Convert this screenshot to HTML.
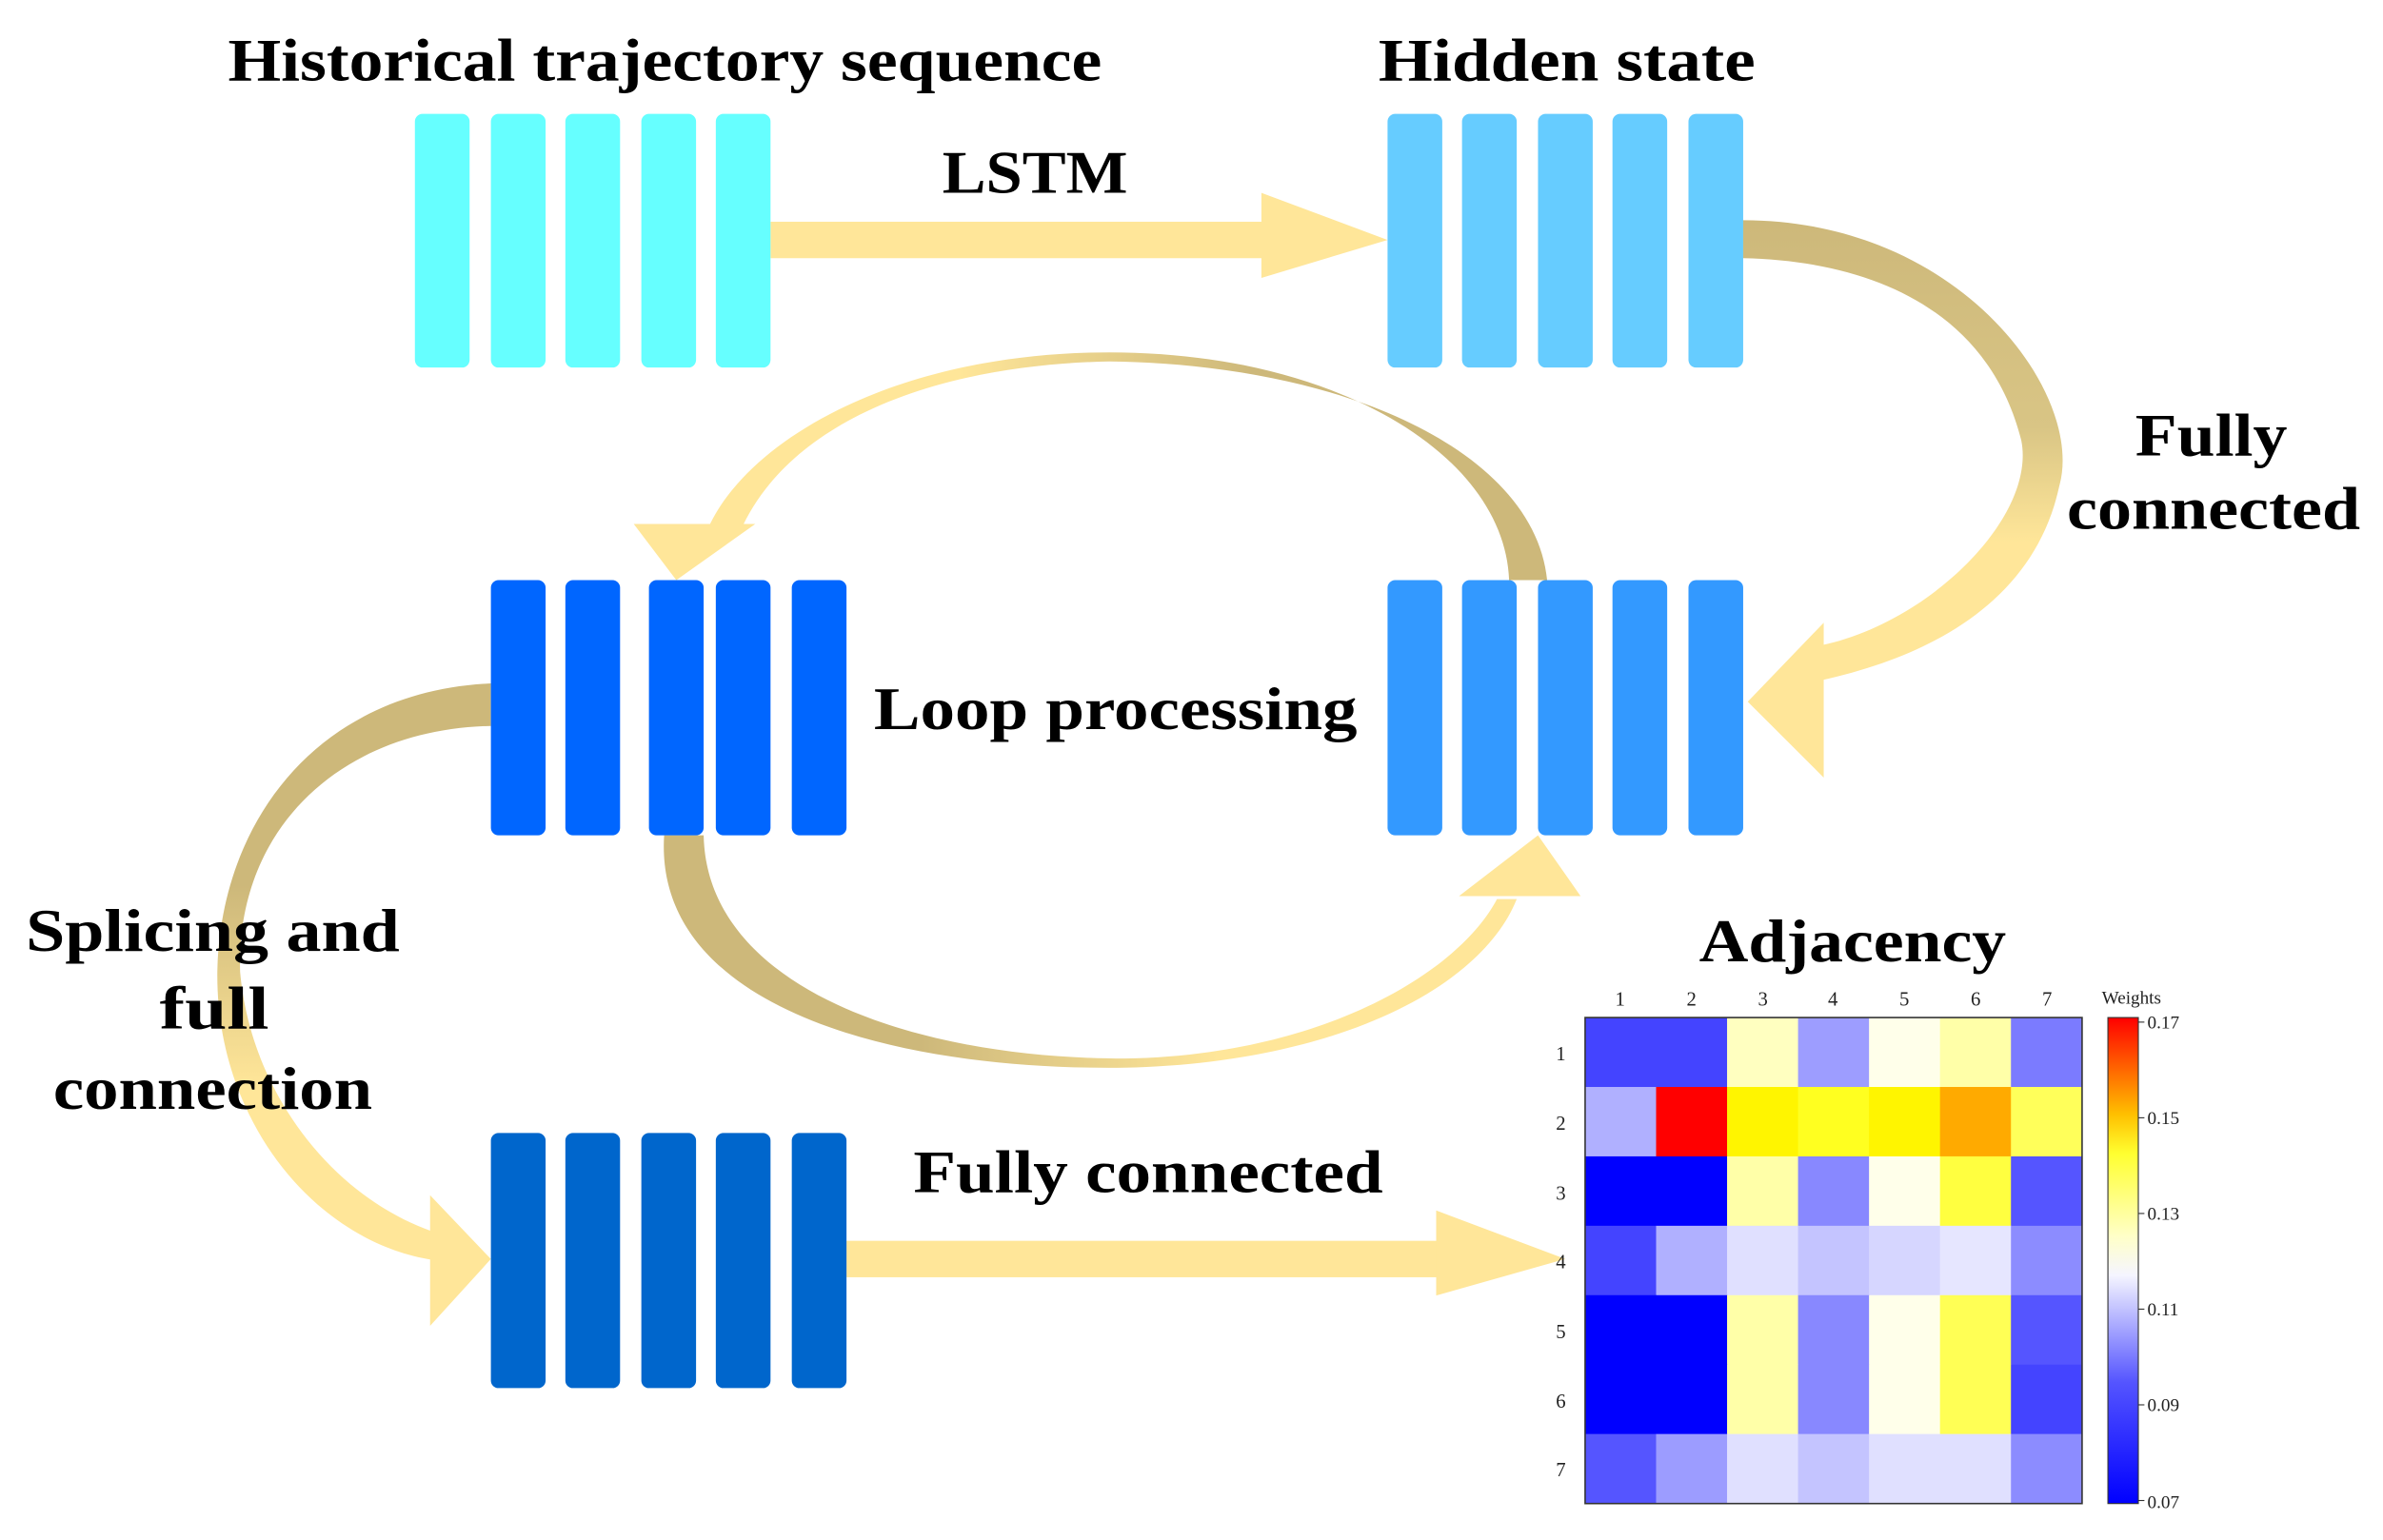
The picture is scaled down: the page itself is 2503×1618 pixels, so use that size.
<!DOCTYPE html>
<html><head><meta charset="utf-8"><style>html,body{margin:0;padding:0;background:#fff}svg{display:block}</style></head>
<body>
<svg width="2503" height="1618" viewBox="0 0 1568 1014" preserveAspectRatio="none" xmlns="http://www.w3.org/2000/svg" font-family="'Liberation Serif',serif">
<defs>
<linearGradient id="gR" x1="0" y1="0" x2="0" y2="1"><stop offset="0" stop-color="#CDB87A"/><stop offset="0.45" stop-color="#D9C585"/><stop offset="0.7" stop-color="#FFE699"/><stop offset="1" stop-color="#FFE699"/></linearGradient>
<linearGradient id="gT" x1="1" y1="0" x2="0" y2="0"><stop offset="0" stop-color="#CDB87A"/><stop offset="0.35" stop-color="#CDB87A"/><stop offset="0.7" stop-color="#FFE699"/><stop offset="1" stop-color="#FFE699"/></linearGradient>
<linearGradient id="gB" x1="0" y1="0" x2="1" y2="0"><stop offset="0" stop-color="#CDB87A"/><stop offset="0.3" stop-color="#CDB87A"/><stop offset="0.65" stop-color="#FFE699"/><stop offset="1" stop-color="#FFE699"/></linearGradient>
<linearGradient id="gL" x1="0" y1="0" x2="0" y2="1"><stop offset="0" stop-color="#CDB87A"/><stop offset="0.35" stop-color="#CDB87A"/><stop offset="0.7" stop-color="#FFE699"/><stop offset="1" stop-color="#FFE699"/></linearGradient>
<linearGradient id="cb" x1="0" y1="1" x2="0" y2="0"><stop offset="0" stop-color="#0000FF"/><stop offset="0.25" stop-color="#5555FF"/><stop offset="0.47" stop-color="#F5F5FF"/><stop offset="0.55" stop-color="#FFFFC8"/><stop offset="0.72" stop-color="#FFFF30"/><stop offset="0.8" stop-color="#FFC000"/><stop offset="0.9" stop-color="#FF6000"/><stop offset="1" stop-color="#FF0000"/></linearGradient>
</defs>

<!-- straight arrows -->
<rect x="507" y="146" width="325" height="24" fill="#FFE699"/>
<polygon points="830,127 913,158 830,183" fill="#FFE699"/>
<rect x="557" y="817" width="390" height="24" fill="#FFE699"/>
<polygon points="945,797 1030,829 945,853" fill="#FFE699"/>

<!-- right curved arrow -->
<path d="M1147,145 C1290,145 1372,260 1355,320 C1340,390 1280,430 1198,448 L1198,425 C1270,410 1340,340 1330,290 C1310,210 1240,172 1147,170 Z" fill="url(#gR)"/>
<polygon points="1200,410 1150,462 1200,512" fill="#FFE699"/>

<!-- top loop arc -->
<path d="M993,382 C990,300 880,232 730,232 C590,232 490,290 465,350 L487,350 C520,275 620,240 730,238 C890,240 1010,300 1018,382 Z" fill="url(#gT)"/>
<polygon points="417,345 497,345 445,382" fill="#FFE699"/>

<!-- bottom loop arc -->
<path d="M437,550 C430,660 580,705 740,703 C880,700 975,650 998,592 L985,592 C960,640 870,695 740,697 C600,697 465,650 463,550 Z" fill="url(#gB)"/>
<polygon points="960,590 1040,590 1012,550" fill="#FFE699"/>

<!-- left arc -->
<path d="M323,450 C210,455 145,540 143,640 C142,740 210,820 288,830 L288,812 C220,790 165,720 158,640 C155,545 225,480 323,478 Z" fill="url(#gL)"/>
<polygon points="283,787 323,829 283,873" fill="#FFE699"/>

<!-- bar groups -->
<g fill="#66FFFF"><rect x="273" y="75" width="36" height="167" rx="5"/><rect x="323" y="75" width="36" height="167" rx="5"/><rect x="372" y="75" width="36" height="167" rx="5"/><rect x="422" y="75" width="36" height="167" rx="5"/><rect x="471" y="75" width="36" height="167" rx="5"/></g>
<g fill="#66CCFF"><rect x="913" y="75" width="36" height="167" rx="5"/><rect x="962" y="75" width="36" height="167" rx="5"/><rect x="1012" y="75" width="36" height="167" rx="5"/><rect x="1061" y="75" width="36" height="167" rx="5"/><rect x="1111" y="75" width="36" height="167" rx="5"/></g>
<g fill="#0066FF"><rect x="323" y="382" width="36" height="168" rx="5"/><rect x="372" y="382" width="36" height="168" rx="5"/><rect x="427" y="382" width="36" height="168" rx="5"/><rect x="471" y="382" width="36" height="168" rx="5"/><rect x="521" y="382" width="36" height="168" rx="5"/></g>
<g fill="#3399FF"><rect x="913" y="382" width="36" height="168" rx="5"/><rect x="962" y="382" width="36" height="168" rx="5"/><rect x="1012" y="382" width="36" height="168" rx="5"/><rect x="1061" y="382" width="36" height="168" rx="5"/><rect x="1111" y="382" width="36" height="168" rx="5"/></g>
<g fill="#0066CC"><rect x="323" y="746" width="36" height="168" rx="5"/><rect x="372" y="746" width="36" height="168" rx="5"/><rect x="422" y="746" width="36" height="168" rx="5"/><rect x="471" y="746" width="36" height="168" rx="5"/><rect x="521" y="746" width="36" height="168" rx="5"/></g>

<!-- labels -->
<g font-weight="bold" font-size="40" fill="#000">
<text x="150" y="53" textLength="575" lengthAdjust="spacingAndGlyphs">Historical trajectory sequence</text>
<text x="907" y="53" textLength="248" lengthAdjust="spacingAndGlyphs">Hidden state</text>
<text x="620" y="127" textLength="122" lengthAdjust="spacingAndGlyphs">LSTM</text>
<text x="1405" y="300" textLength="100" lengthAdjust="spacingAndGlyphs">Fully</text>
<text x="1360" y="348" textLength="193" lengthAdjust="spacingAndGlyphs">connected</text>
<text x="575" y="480" textLength="318" lengthAdjust="spacingAndGlyphs">Loop processing</text>
<text x="17" y="626" textLength="246" lengthAdjust="spacingAndGlyphs">Splicing and</text>
<text x="105" y="677" textLength="72" lengthAdjust="spacingAndGlyphs">full</text>
<text x="35" y="730" textLength="210" lengthAdjust="spacingAndGlyphs">connection</text>
<text x="1118" y="633" textLength="202" lengthAdjust="spacingAndGlyphs">Adjacency</text>
<text x="601" y="785" textLength="309" lengthAdjust="spacingAndGlyphs">Fully connected</text>
</g>

<!-- heatmap -->
<g transform="translate(1043,670)">
<g id="cells">
<rect x="0" y="0" width="47" height="46" fill="#4444FF"/><rect x="46.7" y="0" width="47" height="46" fill="#4444FF"/><rect x="93.4" y="0" width="47" height="46" fill="#FFFFC0"/><rect x="140.1" y="0" width="47" height="46" fill="#9D9DFF"/><rect x="186.8" y="0" width="47" height="46" fill="#FFFFEA"/><rect x="233.5" y="0" width="47" height="46" fill="#FFFFA8"/><rect x="280.2" y="0" width="47" height="46" fill="#7B7BFF"/>
<rect x="0" y="45.7" width="47" height="46" fill="#B0B0FF"/><rect x="46.7" y="45.7" width="47" height="46" fill="#FF0000"/><rect x="93.4" y="45.7" width="47" height="46" fill="#FFF500"/><rect x="140.1" y="45.7" width="47" height="46" fill="#FFFF20"/><rect x="186.8" y="45.7" width="47" height="46" fill="#FFF500"/><rect x="233.5" y="45.7" width="47" height="46" fill="#FFAA00"/><rect x="280.2" y="45.7" width="47" height="46" fill="#FFFF5A"/>
<rect x="0" y="91.4" width="47" height="46" fill="#0000FF"/><rect x="46.7" y="91.4" width="47" height="46" fill="#0000FF"/><rect x="93.4" y="91.4" width="47" height="46" fill="#FFFFA8"/><rect x="140.1" y="91.4" width="47" height="46" fill="#8888FF"/><rect x="186.8" y="91.4" width="47" height="46" fill="#FFFFEA"/><rect x="233.5" y="91.4" width="47" height="46" fill="#FFFF40"/><rect x="280.2" y="91.4" width="47" height="46" fill="#5555FF"/>
<rect x="0" y="137.1" width="47" height="46" fill="#4444FF"/><rect x="46.7" y="137.1" width="47" height="46" fill="#B0B0FF"/><rect x="93.4" y="137.1" width="47" height="46" fill="#E0E0FF"/><rect x="140.1" y="137.1" width="47" height="46" fill="#C4C4FF"/><rect x="186.8" y="137.1" width="47" height="46" fill="#D6D6FF"/><rect x="233.5" y="137.1" width="47" height="46" fill="#E6E6FF"/><rect x="280.2" y="137.1" width="47" height="46" fill="#8C8CFF"/>
<rect x="0" y="182.8" width="47" height="46" fill="#0000FF"/><rect x="46.7" y="182.8" width="47" height="46" fill="#0000FF"/><rect x="93.4" y="182.8" width="47" height="46" fill="#FFFFA8"/><rect x="140.1" y="182.8" width="47" height="46" fill="#8888FF"/><rect x="186.8" y="182.8" width="47" height="46" fill="#FFFFEA"/><rect x="233.5" y="182.8" width="47" height="46" fill="#FFFF55"/><rect x="280.2" y="182.8" width="47" height="46" fill="#5555FF"/>
<rect x="0" y="228.5" width="47" height="46" fill="#0000FF"/><rect x="46.7" y="228.5" width="47" height="46" fill="#0000FF"/><rect x="93.4" y="228.5" width="47" height="46" fill="#FFFFA8"/><rect x="140.1" y="228.5" width="47" height="46" fill="#8888FF"/><rect x="186.8" y="228.5" width="47" height="46" fill="#FFFFEA"/><rect x="233.5" y="228.5" width="47" height="46" fill="#FFFF55"/><rect x="280.2" y="228.5" width="47" height="46" fill="#4444FF"/>
<rect x="0" y="274.2" width="47" height="45.8" fill="#5555FF"/><rect x="46.7" y="274.2" width="47" height="45.8" fill="#9C9CFF"/><rect x="93.4" y="274.2" width="47" height="45.8" fill="#E0E0FF"/><rect x="140.1" y="274.2" width="47" height="45.8" fill="#C4C4FF"/><rect x="186.8" y="274.2" width="47" height="45.8" fill="#E0E0FF"/><rect x="233.5" y="274.2" width="47" height="45.8" fill="#E0E0FF"/><rect x="280.2" y="274.2" width="47" height="45.8" fill="#8C8CFF"/>
</g>
<rect x="0" y="0" width="327" height="320" fill="none" stroke="#333" stroke-width="1"/>
<g font-size="13" fill="#222" text-anchor="middle">
<text x="23" y="-8">1</text><text x="70" y="-8">2</text><text x="117" y="-8">3</text><text x="163" y="-8">4</text><text x="210" y="-8">5</text><text x="257" y="-8">6</text><text x="304" y="-8">7</text>
<text x="-16" y="28">1</text><text x="-16" y="74">2</text><text x="-16" y="120">3</text><text x="-16" y="165">4</text><text x="-16" y="211">5</text><text x="-16" y="257">6</text><text x="-16" y="302">7</text>
</g>
</g>
<rect x="1387" y="670" width="20" height="320" fill="url(#cb)" stroke="#333" stroke-width="0.7"/>
<g font-size="12" fill="#222">
<text x="1383" y="661">Weights</text>
<text x="1413" y="677">0.17</text><text x="1413" y="740">0.15</text><text x="1413" y="803">0.13</text><text x="1413" y="866">0.11</text><text x="1413" y="929">0.09</text><text x="1413" y="993">0.07</text>
</g>
<g stroke="#333" stroke-width="0.7"><line x1="1407" y1="673" x2="1411" y2="673"/><line x1="1407" y1="736" x2="1411" y2="736"/><line x1="1407" y1="799" x2="1411" y2="799"/><line x1="1407" y1="862" x2="1411" y2="862"/><line x1="1407" y1="925" x2="1411" y2="925"/><line x1="1407" y1="988" x2="1411" y2="988"/></g>
</svg>
</body></html>
